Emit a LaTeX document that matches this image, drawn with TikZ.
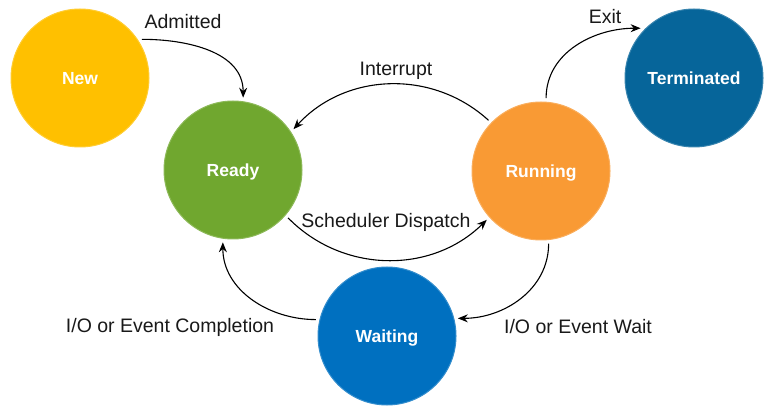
\documentclass[tikz,border=0pt]{standalone}
\usepackage{fontspec}
\setmainfont{Liberation Sans}
\usetikzlibrary{arrows.meta,positioning}
\definecolor{newyellow}{HTML}{FFC000}
\definecolor{readygreen}{HTML}{70A72F}
\definecolor{runorange}{HTML}{F99A34}
\definecolor{termblue}{HTML}{06659A}
\definecolor{waitblue}{HTML}{0070C0}
\tikzset{state/.style={circle,fill=#1,draw=#1!80!white,line width=1pt,minimum size=138pt,inner sep=0pt,outer sep=4pt,text=white,text height=12.6pt,text depth=0pt,font=\fontsize{17.5}{20}\selectfont\bfseries}}
\tikzset{trans/.style={draw,line width=1.1pt,-{Stealth[length=10pt,width=8pt]}}}
\tikzset{lbl/.style={font=\fontsize{19.5}{22}\selectfont,inner sep=0pt,text=black!90}}

\begin{document}
\begin{tikzpicture}[x=1pt,y=-1pt]
    \useasboundingbox (0,0) rectangle (773,411);

    \node[state=newyellow] (new) at (80,78) {New};
    \node[state=readygreen] (ready) at (233,170) {Ready};
    \node[state=runorange] (running) at (541,171) {Running};
    \node[state=termblue] (term) at (694,78) {Terminated};
    \node[state=waitblue] (wait) at (387,336) {Waiting};

    \node[lbl] (ladmit) at (183,22) {Admitted};
    \node[lbl] (lintr) at (396,71) {Interrupt};
    \node[lbl] (ldisp) at (386,222) {Scheduler Dispatch};
    \node[lbl] (lexit) at (605,17) {Exit};
    \node[lbl] (lwait) at (578,327) {I/O or Event Wait};
    \node[lbl] (ldone) at (170,327) {I/O or Event Completion};

        \path[trans] (new.32) to[out=0,in=90] (ready.82);
        \path[trans] (running.136) to[bend right=45] (ready.34);
        \path[trans] (ready.-41) to[bend right=45] (running.222);
        \path[trans] (running.86) to[out=90,in=180] (term.137);
        \path[trans] (running.-84) to[out=-90,in=0] (wait.14);
        \path[trans] (wait.167) to[out=180,in=-90] (ready.262);
\end{tikzpicture}
\end{document}
